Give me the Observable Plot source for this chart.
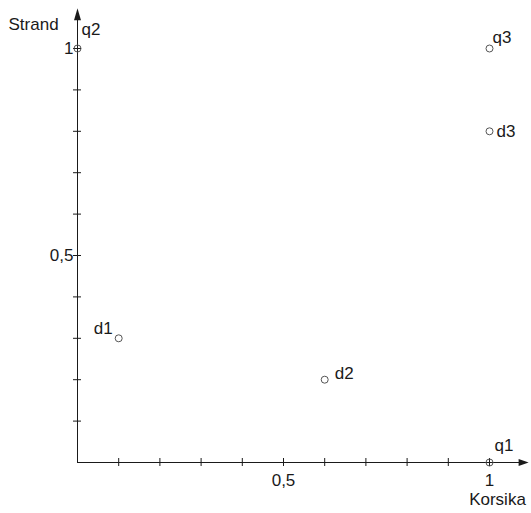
<!DOCTYPE html>
<html>
<head>
<meta charset="utf-8">
<script src="https://cdn.jsdelivr.net/npm/d3@7"></script>
<script src="https://cdn.jsdelivr.net/npm/@observablehq/plot@0.6"></script>
<style>
  html, body { margin: 0; padding: 0; background: #fff; }
</style>
</head>
<body>
<div id="chart"></div>
<script>
// Data
const names = ["q1", "q2", "q3", "d1", "d2", "d3"];
const korsika = [1, 0, 1, 0.1, 0.6, 1];
const strand = [0, 1, 1, 0.3, 0.2, 0.8];
const xTicks = [0.1, 0.2, 0.3, 0.4, 0.5, 0.6, 0.7, 0.8, 0.9, 1.0];
const yTicks = [0.1, 0.2, 0.3, 0.4, 0.5, 0.6, 0.7, 0.8, 0.9, 1.0];
const xTickLabels = [{v: 0.5, t: "0,5"}, {v: 1, t: "1"}];
const yTickLabels = [{v: 0.5, t: "0,5"}, {v: 1, t: "1"}];
const xTitle = "Korsika";
const yTitle = "Strand";

const points = names.map((n, i) => ({name: n, x: korsika[i], y: strand[i]}));

// label placement (pixels) relative to each point
const labelOffsets = {
  q1: {dx: 5, dy: -17, anchor: "start"},
  q2: {dx: 4, dy: -19, anchor: "start"},
  q3: {dx: 3, dy: -11, anchor: "start"},
  d1: {dx: -6, dy: -10, anchor: "end"},
  d2: {dx: 10, dy: -6, anchor: "start"},
  d3: {dx: 7, dy: 0, anchor: "start"}
};

const xEnd = 1.095, yEnd = 1.097;
const arrowUp = {draw(ctx) { ctx.moveTo(0, 0); ctx.lineTo(-3.5, 12); ctx.lineTo(3.5, 12); ctx.closePath(); }};
const arrowRight = {draw(ctx) { ctx.moveTo(0, 0); ctx.lineTo(-10, -3.5); ctx.lineTo(-10, 3.5); ctx.closePath(); }};
const ink = "#1a1a1a";

const chart = Plot.plot({
  width: 531,
  height: 513,
  marginLeft: 77,
  marginRight: 42,
  marginTop: 48,
  marginBottom: 51,
  x: {domain: [0, 1], axis: null},
  y: {domain: [0, 1], axis: null},
  style: {fontFamily: "'Liberation Sans', Arial, sans-serif", fontSize: "17px", background: "#fff"},
  marks: [
    // axis lines
    Plot.ruleY([0], {x1: 0, x2: xEnd - 0.01, stroke: ink, strokeWidth: 1}),
    Plot.ruleX([0], {y1: 0, y2: yEnd - 0.01, stroke: ink, strokeWidth: 1}),
    // arrowheads
    Plot.dot([0], {x: 0, y: yEnd, symbol: arrowUp, fill: ink, stroke: null}),
    Plot.dot([0], {x: xEnd, y: 0, symbol: arrowRight, fill: ink, stroke: null}),
    // ticks
    Plot.ruleX(xTicks, {x: d => d, y1: 0, y2: 0, insetTop: -4, insetBottom: -4, stroke: ink}),
    Plot.ruleY(yTicks, {y: d => d, x1: 0, x2: 0, insetLeft: -4, insetRight: -4, stroke: ink}),
    // tick labels
    Plot.text(xTickLabels, {x: "v", y: 0, text: "t", dy: 18, textAnchor: "middle", fill: ink}),
    Plot.text(yTickLabels, {x: 0, y: "v", text: "t", dx: -4, textAnchor: "end", fill: ink}),
    // axis titles
    Plot.text([yTitle], {frameAnchor: "top-left", text: d => d, dx: -69, dy: -31, textAnchor: "start", fill: ink}),
    Plot.text([xTitle], {frameAnchor: "bottom-right", text: d => d, dx: 8, dy: 42, textAnchor: "middle", fill: ink}),
    // points
    Plot.dot(points, {x: "x", y: "y", r: 3.5, stroke: "#555", strokeWidth: 1, fill: "none"}),
    // point labels
    ...names.map(n => Plot.text(points.filter(p => p.name === n), {
      x: "x", y: "y", text: "name",
      dx: labelOffsets[n].dx, dy: labelOffsets[n].dy,
      textAnchor: labelOffsets[n].anchor, fill: ink
    }))
  ]
});
document.getElementById("chart").appendChild(chart);
</script>
</body>
</html>
